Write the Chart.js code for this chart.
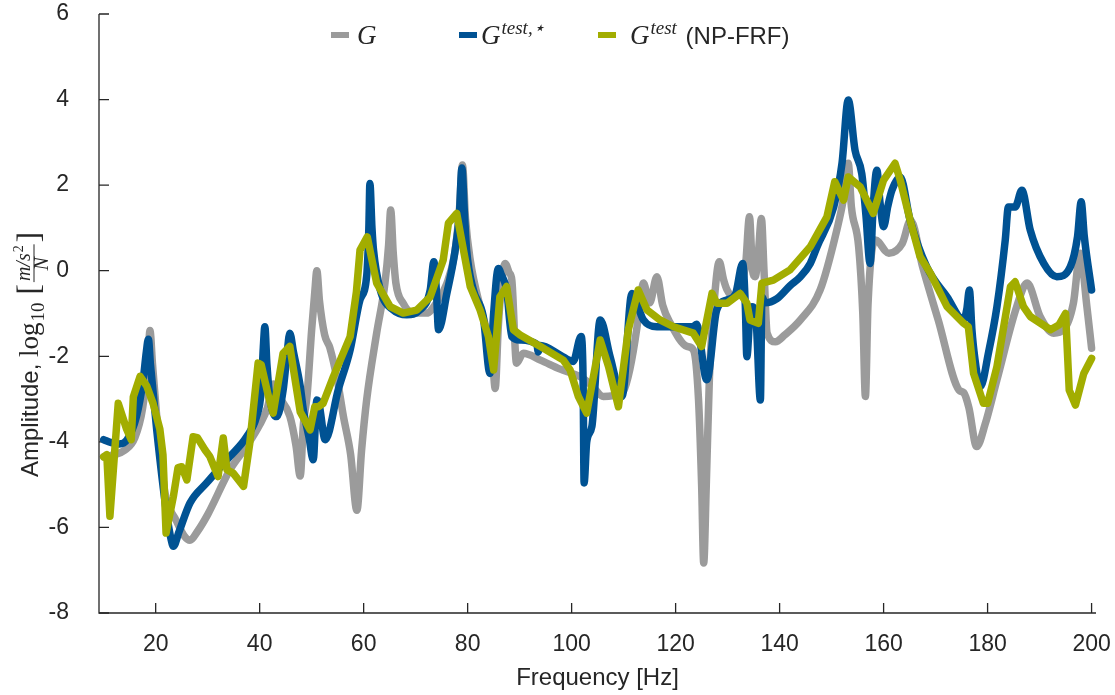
<!DOCTYPE html>
<html>
<head>
<meta charset="utf-8">
<title>FRF amplitude</title>
<script src="https://cdn.jsdelivr.net/npm/chart.js@4.4.0/dist/chart.umd.min.js"></script>
<style>
  html, body { margin: 0; padding: 0; background: #fff; }
  #wrap { width: 1115px; height: 695px; position: relative; }
</style>
</head>
<body>
<div id="wrap"><canvas id="frf"></canvas></div>
<script>
// G (reference FRF)
const freqG = [10, 12, 14, 16, 17.5, 18.5, 18.9, 19.4, 20.2, 21.0, 21.8, 24.0, 25.5, 26.6, 28, 30, 34.3, 37.5, 40, 41.5,
  42.6, 43.5, 45.8, 47.0, 47.8, 48.4, 49.1, 50.0, 50.6, 51.0, 51.5, 52.5, 53.5, 55.0, 56.1, 57.5, 58.7, 59.6, 60.6, 62.5,
  64.1, 64.8, 65.2, 65.7, 66.2, 67.6, 69.5, 72.1, 74, 76, 77.5, 78.4, 79.0, 79.6, 80.5, 82.4, 84, 84.8, 85.3, 85.9,
  86.6, 87.2, 88.0, 88.5, 89.4, 90.7, 94, 97.8, 100.5, 102, 104, 106.1, 108, 110, 111.2, 112.5, 113.3, 113.8, 115.0, 116.4,
  117.5, 119, 122.2, 123.4, 124.4, 125.0, 125.4, 125.9, 126.5, 127.5, 128.4, 129.2, 129.9, 131, 132.5, 133.5, 134.2, 134.8, 135.3, 135.9,
  136.5, 137.0, 137.6, 139.2, 141, 144, 147.8, 151, 152.3, 153.2, 153.8, 155.2, 156.0, 156.5, 157.0, 158.4, 161, 163.6, 165.2, 167.5,
  170.5, 174.5, 175.4, 176.4, 177.9, 179.5, 181.8, 185.6, 187.6, 190.1, 192.7, 194.6, 196.5, 197.8, 199.1, 200];
const ampG = [-4.35, -4.3, -4.2, -3.9, -3.2, -2.1, -1.4, -2.2, -3.4, -4.4, -5.2, -5.85, -6.2, -6.3, -6.1, -5.7, -4.65, -4.1, -3.6, -3.2,
  -2.65, -2.9, -3.4, -4.1, -4.8, -3.6, -2.94, -1.38, -0.5, 0.0, -0.7, -1.5, -1.8, -2.6, -3.4, -4.3, -5.6, -4.2, -3.0, -1.46,
  -0.29, 0.6, 1.42, 0.4, -0.29, -0.76, -0.99, -0.99, -0.75, -0.3, 0.4, 1.4, 2.47, 1.2, 0.25, -0.84, -1.54, -2.1, -2.75, -1.3,
  -0.2, 0.17, -0.05, -0.22, -2.16, -1.93, -2.09, -2.3, -2.42, -2.5, -2.7, -2.94, -2.92, -2.8, -2.3, -1.38, -0.6, -0.29, -0.75, -0.14,
  -0.8, -1.23, -1.77, -1.85, -3.0, -5.0, -6.83, -5.0, -2.5, -0.6, 0.21, -0.2, -0.45, -0.6, -0.4, 0.2, 1.26, 0.0, -0.14, 0.4,
  1.22, 0.0, -1.46, -1.66, -1.5, -1.15, -0.45, 0.95, 1.7, 2.51, 1.5, 0.56, -1.0, -2.94, -0.8, 0.72, 0.41, 0.64, 1.18, 0.09,
  -1.15, -2.79, -2.85, -3.2, -4.11, -3.6, -2.55, -0.84, -0.29, -1.07, -1.46, -1.38, -0.76, 0.41, -0.84, -1.81];

// G test,star
const freqGts = [10, 11.5, 13, 14.5, 16.3, 17.6, 18.2, 18.6, 19.0, 20.2, 22.1, 23.0, 23.4, 24.5, 26.6, 29.8, 34.3, 37.5, 39.4, 40.3,
  40.7, 41.0, 41.4, 42.0, 43.3, 44.5, 45.3, 45.8, 46.5, 47.8, 48.4, 49.5, 50.3, 51.0, 51.4, 52.6, 55.1, 57.4, 59.3, 60.6,
  61.0, 61.2, 61.6, 61.9, 63.2, 65.7, 68.3, 70.8, 72.8, 73.5, 74.0, 74.4, 76.0, 77.6, 78.4, 78.9, 79.4, 79.8, 81.1, 83.0,
  84.3, 85.0, 85.9, 86.5, 87.5, 88.5, 90.1, 93.3, 93.6, 94.0, 97.8, 100.3, 101.8, 102.2, 102.4, 102.9, 103.9, 105.5, 107.4, 109.7,
  111.6, 113.8, 116.4, 123.4, 124.0, 126.0, 127.9, 129.9, 131.5, 132.9, 133.4, 133.7, 134.3, 134.7, 135.5, 136.3, 136.6, 137.2, 139.5, 142,
  144, 145.9, 147.2, 150.4, 152.0, 153.2, 154.5, 155.8, 156.6, 157.4, 158.0, 158.7, 159.3, 160.0, 160.8, 161.6, 163.2, 165.1, 168.3, 172.2,
  175.4, 176.0, 176.5, 177.0, 177.5, 178.6, 180.2, 181.8, 183.4, 184.0, 185.3, 186.6, 188.2, 190.8, 193.3, 195.9, 197.3, 198.0, 198.6, 200];
const ampGts = [-3.95, -4.02, -4.05, -3.95, -3.41, -2.55, -1.9, -1.6, -2.2, -3.72, -5.67, -6.3, -6.44, -6.1, -5.43, -4.96, -4.34, -3.88, -3.41, -2.8,
  -1.8, -1.31, -2.2, -3.0, -3.41, -2.8, -1.9, -1.46, -1.9, -2.7, -3.25, -3.9, -4.42, -3.02, -3.1, -3.95, -2.79, -1.85, -0.68, -0.1,
  1.0, 2.04, 1.0, 0.48, -0.45, -0.92, -1.03, -0.92, -0.45, 0.21, -0.5, -1.38, -0.53, 0.48, 1.3, 2.4, 1.3, 0.48, -0.45, -1.07,
  -2.4, -1.0, 0.05, -0.1, -0.45, -1.54, -1.62, -1.72, -1.9, -1.75, -1.97, -2.12, -1.54, -2.5, -4.96, -4.0, -3.64, -1.15, -2.01, -2.94,
  -0.53, -1.15, -1.31, -1.31, -1.25, -2.55, -0.92, -0.68, -0.55, 0.17, -0.8, -2.01, -1.0, -0.84, -1.2, -3.02, -0.61, -0.75, -0.65, -0.35,
  -0.14, 0.17, 0.56, 1.49, 2.51, 3.99, 2.82, 2.27, 1.3, 0.17, 1.5, 2.35, 1.6, 1.03, 1.5, 1.88, 2.19, 1.18, 0.09, -0.61,
  -1.15, -0.9, -0.45, -1.4, -2.0, -2.71, -1.9, -0.84, 0.72, 1.49, 1.49, 1.88, 0.95, 0.17, -0.14, 0.09, 0.8, 1.61, 0.8, -0.45];

// G test (NP-FRF)
const freqNp = [10, 10.6, 11.2, 12.8, 14.4, 15.3, 15.7, 17.0, 18.3, 19.5, 20.8, 21.4, 22.0, 23.4, 24.3, 25.0, 26.0, 27.2, 28.0, 29.5,
  30.4, 32.0, 33.0, 33.7, 34.9, 36.9, 38.1, 39.7, 40.3, 41.7, 42.6, 44.5, 45.8, 47.8, 49.7, 50.6, 51.3, 52.2, 54.2, 57.4,
  58.6, 59.3, 60.7, 62.5, 65.1, 67.6, 70.2, 72.8, 75.3, 76.3, 77.9, 79.2, 80.5, 82.4, 84.0, 85.0, 86.2, 87.5, 88.8, 90.1,
  94.0, 98.4, 99.7, 101.3, 102.9, 104.2, 105.5, 107.1, 109.0, 110.9, 112.8, 114.5, 117.0, 119.6, 123.4, 125.0, 127.0, 127.9, 129.9, 132.4,
  133.7, 134.3, 135.9, 136.6, 138.8, 142.0, 145.9, 149.1, 150.6, 152.3, 153.2, 155.5, 158.0, 160.0, 162.2, 163.2, 165.1, 167.0, 169.0, 172.2,
  175.4, 176.3, 177.3, 179.2, 180.0, 181.8, 184.4, 185.3, 186.9, 188.2, 192.1, 193.7, 195.0, 195.7, 196.9, 198.5, 200];
const ampNp = [-4.35, -4.3, -5.74, -3.1, -3.7, -3.95, -2.95, -2.47, -2.7, -3.1, -3.7, -4.3, -6.13, -5.28, -4.6, -4.58, -4.89, -3.88, -3.9, -4.19,
  -4.34, -4.81, -3.91, -4.65, -4.73, -5.04, -4.03, -2.16, -2.2, -2.94, -3.33, -1.93, -1.77, -3.3, -3.72, -3.18, -3.18, -3.1, -2.47, -1.54,
  -0.5, 0.48, 0.79, -0.29, -0.84, -0.99, -0.92, -0.61, 0.25, 1.11, 1.34, 0.48, -0.37, -0.92, -1.54, -2.32, -0.61, -0.37, -1.38, -1.5,
  -1.77, -2.09, -2.32, -2.94, -3.33, -2.47, -1.62, -2.24, -3.18, -1.38, -0.45, -0.92, -1.15, -1.31, -1.46, -1.77, -0.53, -0.76, -0.76, -0.53,
  -0.76, -1.15, -1.23, -0.29, -0.22, 0.02, 0.56, 1.26, 2.08, 1.65, 2.19, 1.96, 1.34, 2.12, 2.51, 2.12, 1.18, 0.33, -0.06, -0.84,
  -1.23, -1.31, -2.4, -3.1, -3.1, -2.24, -0.37, -0.26, -0.84, -1.07, -1.38, -1.27, -1.0, -2.79, -3.14, -2.4, -2.05];

const xTicks = [20, 40, 60, 80, 100, 120, 140, 160, 180, 200];
const yTicks = [-8, -6, -4, -2, 0, 2, 4, 6];

const GRAY = '#9b9b9b';
const BLUE = '#005293';
const GREEN = '#a2ad00';
const INK = '#262626';
const SANS = '"Liberation Sans", Arial, Helvetica, sans-serif';
const SERIF = '"Liberation Serif", "Times New Roman", serif';

function pts(xs, ys) {
  return xs.map((x, i) => ({ x: x, y: ys[i] }));
}

// axis lines + inward tick marks (MATLAB style box-less axes)
const axisDecor = {
  id: 'axisDecor',
  beforeDatasetsDraw(c) {
    const { ctx, chartArea: a, scales: { x, y } } = c;
    ctx.save();
    ctx.strokeStyle = INK;
    ctx.lineWidth = 1.3;
    ctx.beginPath();
    xTicks.forEach(v => {
      const px = x.getPixelForValue(v);
      ctx.moveTo(px, a.bottom);
      ctx.lineTo(px, a.bottom - 10);
    });
    yTicks.forEach(v => {
      const py = y.getPixelForValue(v);
      ctx.moveTo(a.left, py);
      ctx.lineTo(a.left + 10, py);
    });
    ctx.stroke();
    ctx.restore();
  },
  afterDraw(c) {
    const { ctx, chartArea: a } = c;
    ctx.save();
    ctx.strokeStyle = INK;
    ctx.lineWidth = 1.3;
    ctx.beginPath();
    ctx.moveTo(a.left, a.top);
    ctx.lineTo(a.left, a.bottom);
    ctx.lineTo(a.right, a.bottom);
    ctx.stroke();
    ctx.restore();
  }
};

// y label with the log10 and unit fraction
const yLabel = {
  id: 'yLabel',
  afterDraw(c) {
    const ctx = c.ctx;
    ctx.save();
    ctx.translate(38, 477);
    ctx.rotate(-Math.PI / 2);
    ctx.fillStyle = INK;
    ctx.strokeStyle = INK;
    ctx.textBaseline = 'alphabetic';
    ctx.textAlign = 'left';
    let u = 0;
    ctx.font = '24px ' + SANS;
    ctx.fillText('Amplitude, ', u, 0);
    u += ctx.measureText('Amplitude, ').width;
    ctx.font = '27px ' + SERIF;
    ctx.fillText('log', u, 0);
    u += ctx.measureText('log').width + 1;
    ctx.font = '19px ' + SERIF;
    ctx.fillText('10', u, 6);
    u += ctx.measureText('10').width + 8;
    ctx.font = '31px ' + SERIF;
    ctx.fillText('[', u, 1);
    u += ctx.measureText('[').width + 2;
    // fraction  m/s^2 over N
    ctx.font = 'italic 20px ' + SERIF;
    const numW = ctx.measureText('m/s').width;
    ctx.font = '14px ' + SERIF;
    const supW = ctx.measureText('2').width;
    const fracW = numW + supW + 2;
    ctx.font = 'italic 20px ' + SERIF;
    ctx.fillText('m/s', u + 1, -8);
    ctx.font = '14px ' + SERIF;
    ctx.fillText('2', u + 1 + numW + 1, -15);
    ctx.font = 'italic 20px ' + SERIF;
    const nW = ctx.measureText('N').width;
    ctx.fillText('N', u + (fracW - nW) / 2, 10);
    ctx.lineWidth = 1;
    ctx.beginPath();
    ctx.moveTo(u, -4);
    ctx.lineTo(u + fracW + 1, -4);
    ctx.stroke();
    u += fracW + 3;
    ctx.font = '31px ' + SERIF;
    ctx.fillText(']', u, 1);
    ctx.restore();
  }
};

// legend drawn by hand because of the super-scripts
const legendDraw = {
  id: 'legendDraw',
  afterDraw(c) {
    const ctx = c.ctx;
    const items = [
      { color: GRAY, x0: 331, gx: 357, sup: '', tail: '' },
      { color: BLUE, x0: 459, gx: 481, sup: 'test,\u22C6', tail: '' },
      { color: GREEN, x0: 598, gx: 630, sup: 'test', tail: ' (NP-FRF)' }
    ];
    ctx.save();
    items.forEach(it => {
      ctx.strokeStyle = it.color;
      ctx.lineWidth = 6;
      ctx.lineCap = 'butt';
      ctx.beginPath();
      ctx.moveTo(it.x0, 35);
      ctx.lineTo(it.x0 + 18, 35);
      ctx.stroke();
      ctx.fillStyle = INK;
      ctx.textBaseline = 'alphabetic';
      ctx.font = 'italic 27px ' + SERIF;
      ctx.fillText('G', it.gx, 44);
      let x = it.gx + ctx.measureText('G').width + 1;
      if (it.sup) {
        ctx.font = 'italic 19px ' + SERIF;
        ctx.fillText(it.sup, x, 34);
        x += ctx.measureText(it.sup).width;
      }
      if (it.tail) {
        ctx.font = '24px ' + SANS;
        ctx.fillText(it.tail, x + 2, 44);
      }
    });
    ctx.restore();
  }
};

const lineBase = {
  borderWidth: 7.5,
  pointRadius: 0,
  borderCapStyle: 'round',
  borderJoinStyle: 'round',
  fill: false
};

new Chart(document.getElementById('frf'), {
  type: 'line',
  data: {
    datasets: [
      Object.assign({ label: 'G', data: pts(freqG, ampG), borderColor: GRAY, order: 3, cubicInterpolationMode: 'monotone' }, lineBase),
      Object.assign({ label: 'G test,*', data: pts(freqGts, ampGts), borderColor: BLUE, order: 2, cubicInterpolationMode: 'monotone' }, lineBase),
      Object.assign({ label: 'G test (NP-FRF)', data: pts(freqNp, ampNp), borderColor: GREEN, order: 1, tension: 0 }, lineBase)
    ]
  },
  options: {
    responsive: true,
    maintainAspectRatio: false,
    animation: false,
    devicePixelRatio: 1,
    layout: { padding: { top: 14, right: 19, left: 0, bottom: 0 } },
    plugins: { legend: { display: false }, tooltip: { enabled: false } },
    scales: {
      x: {
        type: 'linear',
        min: 9.1,
        max: 200.85,
        afterBuildTicks: s => { s.ticks = xTicks.map(v => ({ value: v })); },
        afterFit: s => { s.height = 82; s.paddingLeft = 0; s.paddingRight = 0; s.paddingTop = 0; s.paddingBottom = 0; },
        grid: { display: false },
        border: { display: false },
        ticks: {
          padding: 10,
          autoSkip: false,
          maxRotation: 0,
          color: INK,
          font: { family: SANS, size: 23 },
          callback: v => String(v)
        },
        title: {
          display: true,
          text: 'Frequency [Hz]',
          color: INK,
          font: { family: SANS, size: 24 },
          padding: { top: 0, bottom: 2 }
        }
      },
      y: {
        type: 'linear',
        min: -8,
        max: 6,
        afterBuildTicks: s => { s.ticks = yTicks.map(v => ({ value: v })); },
        afterFit: s => { s.width = 99; s.paddingLeft = 0; s.paddingRight = 0; s.paddingTop = 0; s.paddingBottom = 0; },
        grid: { display: false },
        border: { display: false },
        ticks: {
          padding: 22,
          color: INK,
          font: { family: SANS, size: 23 },
          callback: v => String(v)
        }
      }
    }
  },
  plugins: [axisDecor, yLabel, legendDraw]
});
</script>
</body>
</html>
